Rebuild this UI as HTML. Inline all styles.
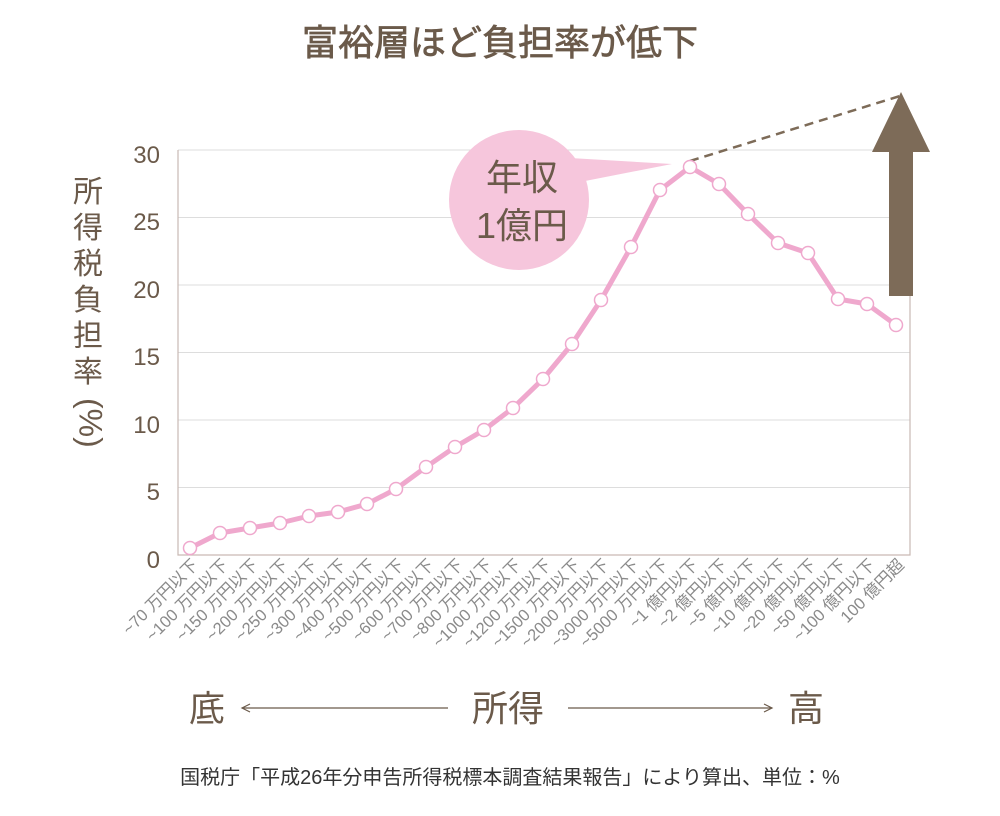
<!DOCTYPE html>
<html><head><meta charset="utf-8"><style>
body{margin:0;background:#fff;}
svg text{font-family:"Liberation Sans","Noto Sans CJK JP",sans-serif;}
</style></head><body>
<svg width="1000" height="811" viewBox="0 0 1000 811" xmlns="http://www.w3.org/2000/svg">
<text x="500" y="55" text-anchor="middle" font-size="36" fill="#6b5a4a" stroke="#6b5a4a" stroke-width="0.7">富裕層ほど負担率が低下</text>
<g stroke="#ddd" stroke-width="1">
<line x1="178" y1="150" x2="910" y2="150"/><line x1="178" y1="217.5" x2="910" y2="217.5"/>
<line x1="178" y1="285" x2="910" y2="285"/><line x1="178" y1="352.5" x2="910" y2="352.5"/>
<line x1="178" y1="420" x2="910" y2="420"/><line x1="178" y1="487.5" x2="910" y2="487.5"/>
</g>
<polyline points="178,150 178,555 910,555 910,150" fill="none" stroke="#c9b9b3" stroke-width="1.2"/>
<g font-size="24" fill="#6b5a4a" text-anchor="end">
<text x="160" y="163">30</text><text x="160" y="230">25</text><text x="160" y="298">20</text>
<text x="160" y="365">15</text><text x="160" y="433">10</text><text x="160" y="500">5</text><text x="160" y="568">0</text>
</g>
<g font-size="30" fill="#6b5a4a" text-anchor="middle">
<text x="88" y="202">所</text><text x="88" y="238">得</text><text x="88" y="274">税</text><text x="88" y="310">負</text><text x="88" y="346">担</text><text x="88" y="382">率</text>
<text x="88" y="398" transform="rotate(90 88 398)" dominant-baseline="middle" text-anchor="start" font-size="32">(%)</text>
</g>
<line x1="690" y1="161" x2="900" y2="96" stroke="#7d6b58" stroke-width="2.5" stroke-dasharray="9,6"/>
<polygon points="889,296 913,296 913,152 930,152 901,92 872,152 889,152" fill="#7d6b58"/>
<polygon points="570,158 672,164 580,182" fill="#f6c6dc"/>
<circle cx="519" cy="200" r="70" fill="#f6c6dc"/>
<text x="522" y="190" text-anchor="middle" font-size="36" fill="#6b5a4a">年収</text>
<text x="522" y="238" text-anchor="middle" font-size="36" fill="#6b5a4a">1億円</text>
<polyline fill="none" stroke="#efa8cd" stroke-width="5" stroke-linejoin="round" points="190,548 220,533 250,528 280,523 309,516 338,512 367,504 396,489 426,467 455,447 484,430 513,408 543,379 572,344 601,300 631,247 660,190 690,167 719,184 748,214 778,243 808,253 838,299 867,304 896,325"/>
<g fill="#fff" stroke="#efa8cd" stroke-width="1.5">
<circle cx="190" cy="548" r="6.5"/><circle cx="220" cy="533" r="6.5"/><circle cx="250" cy="528" r="6.5"/><circle cx="280" cy="523" r="6.5"/><circle cx="309" cy="516" r="6.5"/><circle cx="338" cy="512" r="6.5"/><circle cx="367" cy="504" r="6.5"/><circle cx="396" cy="489" r="6.5"/><circle cx="426" cy="467" r="6.5"/><circle cx="455" cy="447" r="6.5"/><circle cx="484" cy="430" r="6.5"/><circle cx="513" cy="408" r="6.5"/><circle cx="543" cy="379" r="6.5"/><circle cx="572" cy="344" r="6.5"/><circle cx="601" cy="300" r="6.5"/><circle cx="631" cy="247" r="6.5"/><circle cx="660" cy="190" r="6.5"/><circle cx="690" cy="167" r="6.5"/><circle cx="719" cy="184" r="6.5"/><circle cx="748" cy="214" r="6.5"/><circle cx="778" cy="243" r="6.5"/><circle cx="808" cy="253" r="6.5"/><circle cx="838" cy="299" r="6.5"/><circle cx="867" cy="304" r="6.5"/><circle cx="896" cy="325" r="6.5"/>
</g>
<g font-size="16.5" fill="#8a8a8a" text-anchor="end">
<text transform="translate(199,566) rotate(-45)">~70 万円以下</text>
<text transform="translate(229,566) rotate(-45)">~100 万円以下</text>
<text transform="translate(259,566) rotate(-45)">~150 万円以下</text>
<text transform="translate(289,566) rotate(-45)">~200 万円以下</text>
<text transform="translate(318,566) rotate(-45)">~250 万円以下</text>
<text transform="translate(347,566) rotate(-45)">~300 万円以下</text>
<text transform="translate(376,566) rotate(-45)">~400 万円以下</text>
<text transform="translate(405,566) rotate(-45)">~500 万円以下</text>
<text transform="translate(435,566) rotate(-45)">~600 万円以下</text>
<text transform="translate(464,566) rotate(-45)">~700 万円以下</text>
<text transform="translate(493,566) rotate(-45)">~800 万円以下</text>
<text transform="translate(522,566) rotate(-45)">~1000 万円以下</text>
<text transform="translate(552,566) rotate(-45)">~1200 万円以下</text>
<text transform="translate(581,566) rotate(-45)">~1500 万円以下</text>
<text transform="translate(610,566) rotate(-45)">~2000 万円以下</text>
<text transform="translate(640,566) rotate(-45)">~3000 万円以下</text>
<text transform="translate(669,566) rotate(-45)">~5000 万円以下</text>
<text transform="translate(699,566) rotate(-45)">~1 億円以下</text>
<text transform="translate(728,566) rotate(-45)">~2 億円以下</text>
<text transform="translate(757,566) rotate(-45)">~5 億円以下</text>
<text transform="translate(787,566) rotate(-45)">~10 億円以下</text>
<text transform="translate(817,566) rotate(-45)">~20 億円以下</text>
<text transform="translate(847,566) rotate(-45)">~50 億円以下</text>
<text transform="translate(876,566) rotate(-45)">~100 億円以下</text>
<text transform="translate(905,566) rotate(-45)">100 億円超</text>
</g>
<g font-size="36" fill="#6b5a4a" text-anchor="middle">
<text x="207" y="721">底</text><text x="508" y="721">所得</text><text x="806" y="721">高</text>
</g>
<g stroke="#6b5a4a" stroke-width="1.2" fill="none">
<line x1="242" y1="708" x2="448" y2="708"/><polyline points="250,704 242,708 250,712"/>
<line x1="568" y1="708" x2="772" y2="708"/><polyline points="764,704 772,708 764,712"/>
</g>
<text x="510" y="784" text-anchor="middle" font-size="20" fill="#333">国税庁「平成26年分申告所得税標本調査結果報告」により算出、単位：%</text>
</svg>
</body></html>
